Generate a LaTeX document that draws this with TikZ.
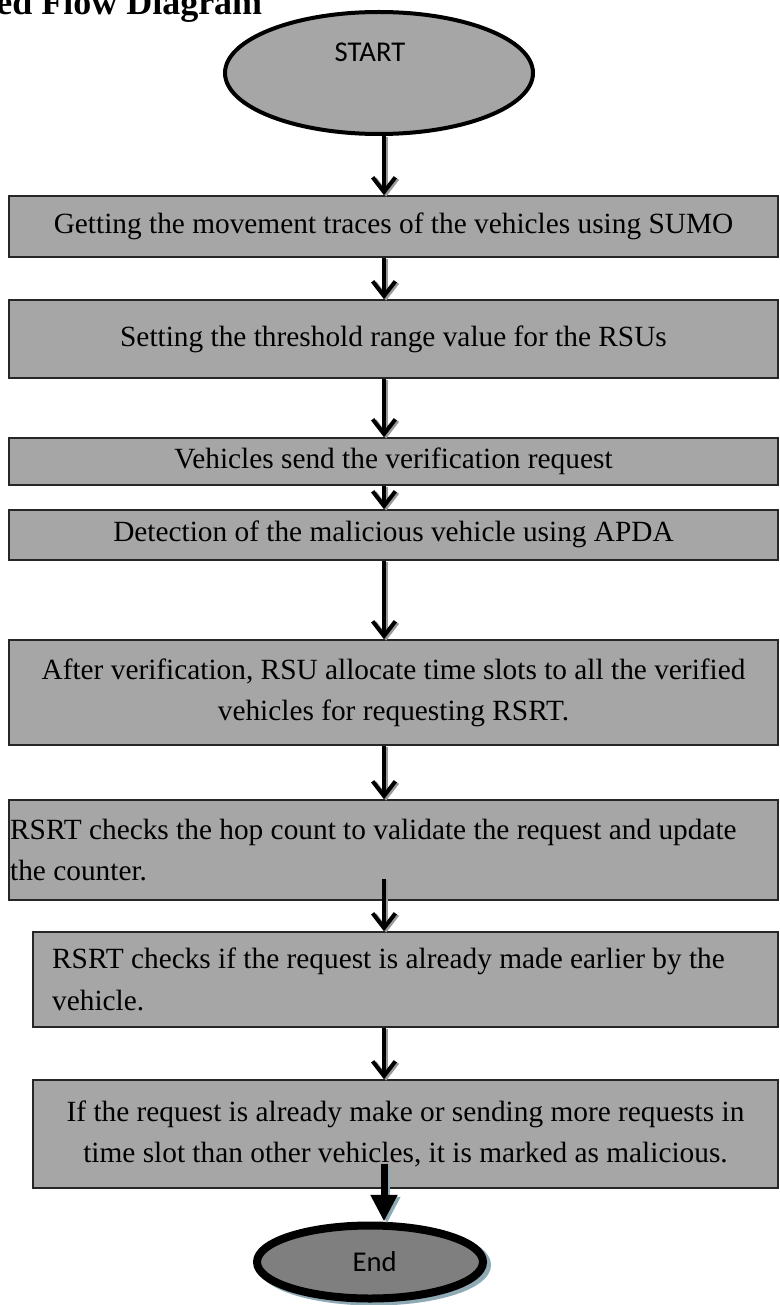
\documentclass[tikz,border=0pt]{standalone}
\usepackage{fontspec}
\setmainfont{Liberation Serif}
\newfontfamily\calib{Carlito}
\usetikzlibrary{shapes.geometric,arrows.meta,calc}
\definecolor{boxgray}{HTML}{A6A6A6}
\definecolor{endgray}{HTML}{7F7F7F}
\definecolor{shadowblue}{HTML}{8FAAB5}
\definecolor{arrowshadow}{HTML}{9A9A9A}
\begin{document}
\begin{tikzpicture}[x=0.75pt,y=-0.75pt,
  procbox/.style={draw=black!85, line width=1.1pt, fill=boxgray, inner sep=0pt,
    font=\fontsize{22}{31}\selectfont},
  widebox/.style={procbox, minimum width=576.75pt},
  narrowbox/.style={procbox, minimum width=558.75pt},
  flowarrow/.style={line width=3pt, -{Straight Barb[length=11pt,width=17pt,line width=3pt]}},
  flowshadow/.style={flowarrow, draw=arrowshadow, transform canvas={shift={(1.6pt,-1pt)}}},
  endarrow/.style={line width=5.25pt, -{Triangle[length=20pt,width=19pt]}},
  endshadowarrow/.style={endarrow, draw=shadowblue, fill=shadowblue, transform canvas={shift={(2.2pt,-1.5pt)}}},
  termlabel/.style={font=\calib\fontsize{21.5}{26}\selectfont, inner sep=0pt}
]
\useasboundingbox (0,0) rectangle (779,1305);

% title (cut off at the top-left edge, as in the reference)
\node[anchor=base west, inner sep=0pt, font=\bfseries\fontsize{27}{32}\selectfont] (title) at (-4,15) {ed Flow Diagram};

% start terminal
\node[ellipse, draw=black, line width=3pt, fill=boxgray, minimum width=231pt, minimum height=91.5pt, inner sep=0pt] (start) at (379,73) {};
\node[termlabel] (starttxt) at (370,52) {START};

% process boxes
\node[widebox, minimum height=45.75pt] (b1) at (393.5,226.5) {Getting the movement traces of the vehicles using SUMO};
\node[widebox, minimum height=58.5pt] (b2) at (393.5,339) {\raisebox{4pt}{Setting the threshold range value for the RSUs}};
\node[widebox, minimum height=35.25pt] (b3) at (393.5,461.5) {\raisebox{2pt}{Vehicles send the verification request}};
\node[widebox, minimum height=37.5pt] (b4) at (393.5,535) {\raisebox{6pt}{Detection of the malicious vehicle using APDA}};
\node[widebox, minimum height=78.75pt, align=center] (b5) at (393.5,692.5) {After verification, RSU allocate time slots to all the verified\\vehicles for requesting RSRT.};
\node[widebox, minimum height=75pt, text width=575pt, align=flush left] (b6) at (393.5,850) {RSRT checks the hop count to validate the request and update\\the counter.};
\node[narrowbox, minimum height=71.25pt, text width=530pt, align=flush left] (b7) at (405.5,979.5) {RSRT checks if the request is already made earlier by the\\vehicle.};
\node[narrowbox, minimum height=81pt, align=center] (b8) at (405.5,1134) {If the request is already make or sending more requests in\\time slot than other vehicles, it is marked as malicious.};

% end terminal
\node[ellipse, draw=shadowblue, line width=6pt, fill=shadowblue, minimum width=169.5pt, minimum height=54.75pt, inner sep=0pt] (endshadow) at (374,1265) {};
\node[ellipse, draw=black, line width=6pt, fill=endgray, minimum width=169.5pt, minimum height=54.75pt, inner sep=0pt, font=\calib\fontsize{21.5}{26}\selectfont] (end) at (370,1262) {\raisebox{-3pt}{\hspace{7pt}End}};

% connectors
\coordinate (ax) at (384,0);
\coordinate (s6) at ($(ax |- b6.south)+(0,-22)$);
\coordinate (s8) at ($(ax |- b8.south)+(0,-25)$);

\foreach \a/\b in {start/b1,b1/b2,b2/b3,b3/b4,b4/b5,b5/b6,b7/b8}{
  \draw[flowshadow] (ax |- \a.south) -- (ax |- \b.north);
  \draw[flowarrow] (ax |- \a.south) -- (ax |- \b.north);
}
\draw[flowshadow] (s6) -- (ax |- b7.north);
\draw[flowarrow] (s6) -- (ax |- b7.north);

\draw[endshadowarrow] (s8) -- (ax |- end.north);
\draw[endarrow] (s8) -- (ax |- end.north);
\end{tikzpicture}
\end{document}
